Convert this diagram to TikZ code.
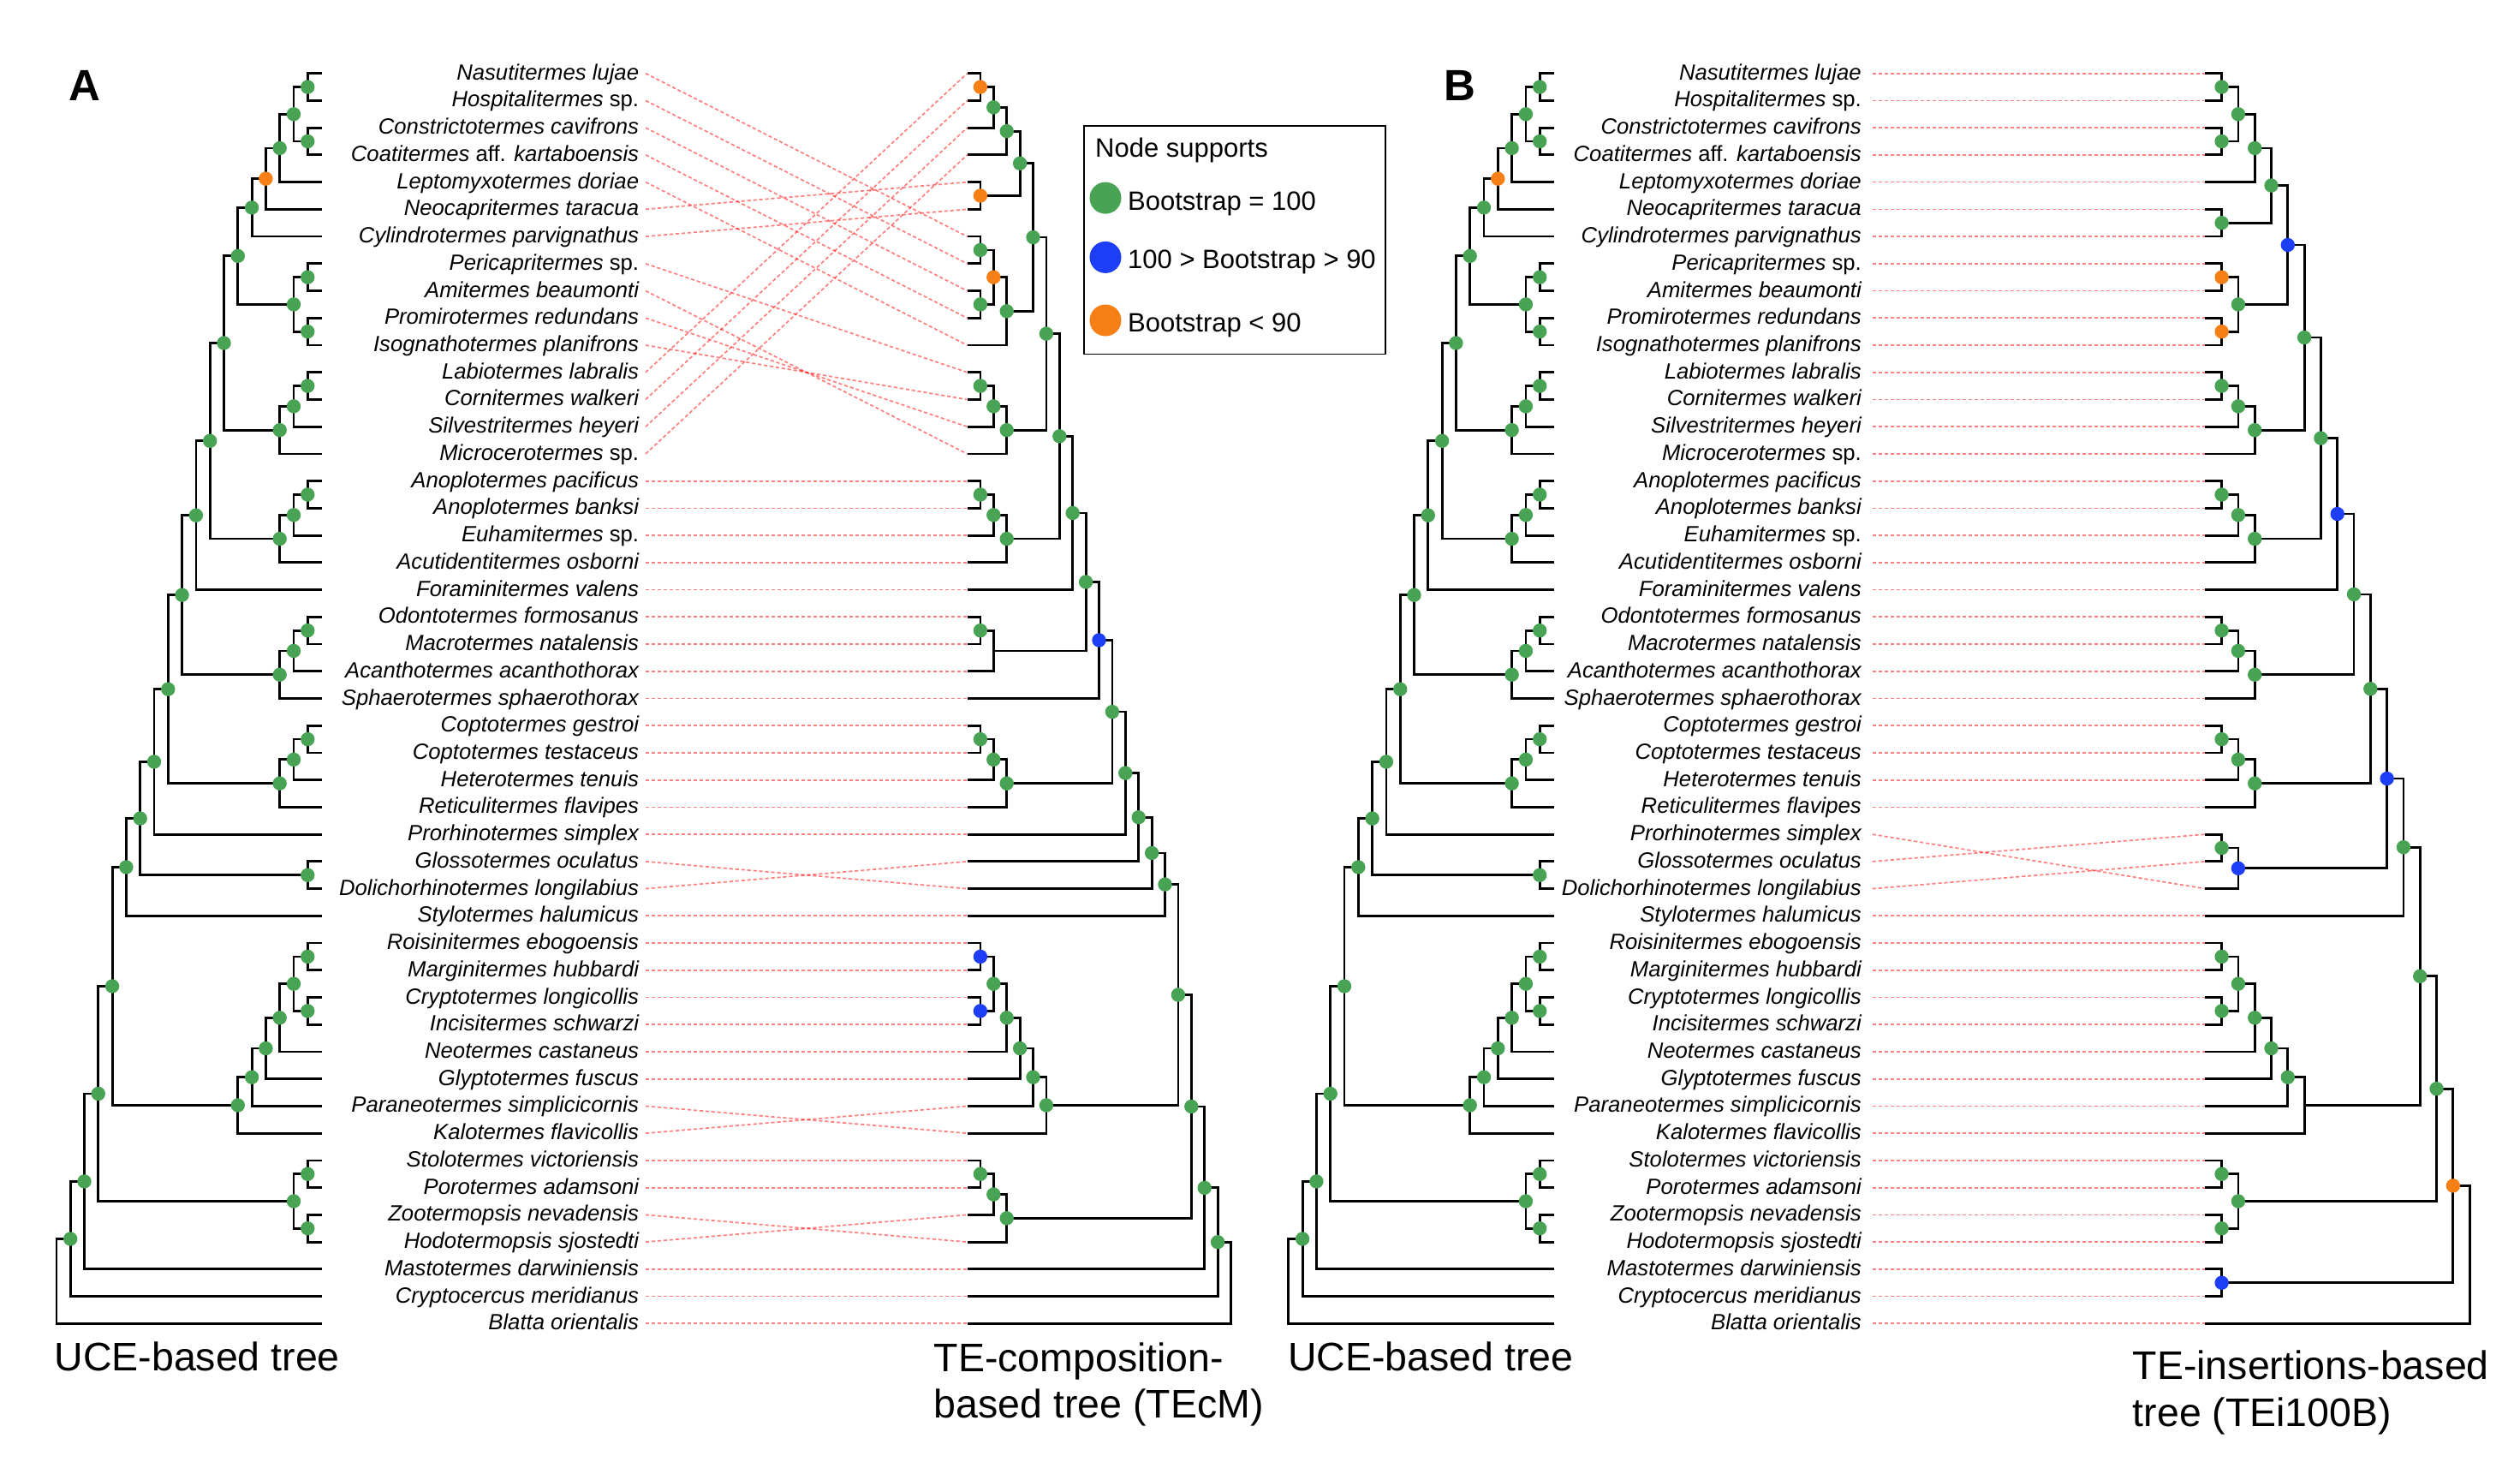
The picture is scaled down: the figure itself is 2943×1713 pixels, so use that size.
\documentclass[tikz,border=0pt]{standalone}
\usepackage{fontspec}
\setmainfont{Liberation Sans}
\usetikzlibrary{calc}
\pgfdeclarelayer{fg}
\pgfsetlayers{main,fg}
\definecolor{gr}{RGB}{73,163,84}
\definecolor{og}{RGB}{246,127,22}
\definecolor{bl}{RGB}{30,62,246}
\newcommand\labfont{\fontsize{25.7pt}{30pt}\selectfont\itshape}
\newcommand\legfont{\fontsize{31pt}{36pt}\selectfont}
\newcommand\titfont{\fontsize{46.5pt}{54pt}\selectfont}
\newcommand\bigletfont{\fontsize{51pt}{51pt}\selectfont\bfseries}
\newcommand\trX{0}
\newcommand\trD{0}
\newcommand\rowy[1]{85.7+31.73*#1}
\newcommand\tn[5]{%
  \path let \p1=(#2), \p2=(#3) in ({(\trX+(\trD)*(#4))*1pt},{(\y1+\y2)/2}) coordinate (#1);
  \draw[br] (#2) -| (#1) |- (#3);
  \ifx\relax#5\relax\else
    \begin{pgfonlayer}{fg}\fill[#5] (#1) circle[radius=8.2pt];\end{pgfonlayer}%
  \fi}
\newcommand\spname[1]{\ifcase#1\relax
Nasutitermes lujae\or
Hospitalitermes \textup{sp.}\or
Constrictotermes cavifrons\or
Coatitermes \textup{aff.} kartaboensis\or
Leptomyxotermes doriae\or
Neocapritermes taracua\or
Cylindrotermes parvignathus\or
Pericapritermes \textup{sp.}\or
Amitermes beaumonti\or
Promirotermes redundans\or
Isognathotermes planifrons\or
Labiotermes labralis\or
Cornitermes walkeri\or
Silvestritermes heyeri\or
Microcerotermes \textup{sp.}\or
Anoplotermes pacificus\or
Anoplotermes banksi\or
Euhamitermes \textup{sp.}\or
Acutidentitermes osborni\or
Foraminitermes valens\or
Odontotermes formosanus\or
Macrotermes natalensis\or
Acanthotermes acanthothorax\or
Sphaerotermes sphaerothorax\or
Coptotermes gestroi\or
Coptotermes testaceus\or
Heterotermes tenuis\or
Reticulitermes flavipes\or
Prorhinotermes simplex\or
Glossotermes oculatus\or
Dolichorhinotermes longilabius\or
Stylotermes halumicus\or
Roisinitermes ebogoensis\or
Marginitermes hubbardi\or
Cryptotermes longicollis\or
Incisitermes schwarzi\or
Neotermes castaneus\or
Glyptotermes fuscus\or
Paraneotermes simplicicornis\or
Kalotermes flavicollis\or
Stolotermes victoriensis\or
Porotermes adamsoni\or
Zootermopsis nevadensis\or
Hodotermopsis sjostedti\or
Mastotermes darwiniensis\or
Cryptocercus meridianus\or
Blatta orientalis\fi}
\newcommand\ucetree[1]{%
 \tn{#1n1}{#1-0}{#1-1}{1}{gr}%
 \tn{#1n2}{#1-2}{#1-3}{1}{gr}%
 \tn{#1n3}{#1n1}{#1n2}{2}{gr}%
 \tn{#1n4}{#1n3}{#1-4}{3}{gr}%
 \tn{#1n5}{#1n4}{#1-5}{4}{og}%
 \tn{#1n6}{#1n5}{#1-6}{5}{gr}%
 \tn{#1n7}{#1-7}{#1-8}{1}{gr}%
 \tn{#1n8}{#1-9}{#1-10}{1}{gr}%
 \tn{#1n9}{#1n7}{#1n8}{2}{gr}%
 \tn{#1n10}{#1n6}{#1n9}{6}{gr}%
 \tn{#1n11}{#1-11}{#1-12}{1}{gr}%
 \tn{#1n12}{#1n11}{#1-13}{2}{gr}%
 \tn{#1n13}{#1n12}{#1-14}{3}{gr}%
 \tn{#1n14}{#1n10}{#1n13}{7}{gr}%
 \tn{#1n15}{#1-15}{#1-16}{1}{gr}%
 \tn{#1n16}{#1n15}{#1-17}{2}{gr}%
 \tn{#1n17}{#1n16}{#1-18}{3}{gr}%
 \tn{#1n18}{#1n14}{#1n17}{8}{gr}%
 \tn{#1n19}{#1n18}{#1-19}{9}{gr}%
 \tn{#1n20}{#1-20}{#1-21}{1}{gr}%
 \tn{#1n21}{#1n20}{#1-22}{2}{gr}%
 \tn{#1n22}{#1n21}{#1-23}{3}{gr}%
 \tn{#1n23}{#1n19}{#1n22}{10}{gr}%
 \tn{#1n24}{#1-24}{#1-25}{1}{gr}%
 \tn{#1n25}{#1n24}{#1-26}{2}{gr}%
 \tn{#1n26}{#1n25}{#1-27}{3}{gr}%
 \tn{#1n27}{#1n23}{#1n26}{11}{gr}%
 \tn{#1n28}{#1n27}{#1-28}{12}{gr}%
 \tn{#1n29}{#1-29}{#1-30}{1}{gr}%
 \tn{#1n30}{#1n28}{#1n29}{13}{gr}%
 \tn{#1n31}{#1n30}{#1-31}{14}{gr}%
 \tn{#1n32}{#1-32}{#1-33}{1}{gr}%
 \tn{#1n33}{#1-34}{#1-35}{1}{gr}%
 \tn{#1n34}{#1n32}{#1n33}{2}{gr}%
 \tn{#1n35}{#1n34}{#1-36}{3}{gr}%
 \tn{#1n36}{#1n35}{#1-37}{4}{gr}%
 \tn{#1n37}{#1n36}{#1-38}{5}{gr}%
 \tn{#1n38}{#1n37}{#1-39}{6}{gr}%
 \tn{#1n39}{#1n31}{#1n38}{15}{gr}%
 \tn{#1n40}{#1-40}{#1-41}{1}{gr}%
 \tn{#1n41}{#1-42}{#1-43}{1}{gr}%
 \tn{#1n42}{#1n40}{#1n41}{2}{gr}%
 \tn{#1n43}{#1n39}{#1n42}{16}{gr}%
 \tn{#1n44}{#1n43}{#1-44}{17}{gr}%
 \tn{#1n45}{#1n44}{#1-45}{18}{gr}%
 \tn{#1n46}{#1n45}{#1-46}{19}{}%
}
\begin{document}
\begin{tikzpicture}[x=1pt,y=-1pt,
  br/.style={line width=2.8pt,black},
  lk/.style={draw=red,draw opacity=0.5,line width=1.7pt,dash pattern=on 4.2pt off 2.8pt},
  lab/.style={anchor=east,inner sep=0pt,text height=15pt,text depth=0pt,font=\labfont},
  tit/.style={anchor=base west,inner sep=0pt,font=\titfont},
  leg/.style={anchor=base west,inner sep=0pt,font=\legfont},
  ldot/.style={circle,inner sep=0pt,minimum size=37pt}]
\useasboundingbox (0,0) rectangle (2943,1713);
\foreach \i in {0,...,46}{
  \coordinate (au-\i) at (375.6,{\rowy{\i}});
  \coordinate (bu-\i) at (1814.5,{\rowy{\i}});
  \coordinate (ad-\i) at (754,{\rowy{\i}});
  \coordinate (bd-\i) at (2186.7,{\rowy{\i}});
  \coordinate (at-\i) at (1129.5,{\rowy{\i}});
  \coordinate (bt-\i) at (2575.3,{\rowy{\i}});
  \node[lab] (la-\i) at (746.3,{\rowy{\i}}) {\spname{\i}};
  \node[lab] (lb-\i) at (2174,{\rowy{\i}}) {\spname{\i}};
}
% connecting dotted lines
\foreach \j [count=\i from 0] in {6,7,8,9,10,4,5,11,14,13,12,0,1,2,3,15,16,17,18,19,20,21,22,23,24,25,26,27,28,30,29,31,32,33,34,35,36,37,39,38,40,41,43,42,44,45,46}{
  \draw[lk] (ad-\i) -- (at-\j);
}
\foreach \j [count=\i from 0] in {0,1,2,3,4,5,6,7,8,9,10,11,12,13,14,15,16,17,18,19,20,21,22,23,24,25,26,27,30,28,29,31,32,33,34,35,36,37,38,39,40,41,42,43,44,45,46}{
  \draw[lk] (bd-\i) -- (bt-\j);
}
% UCE trees
\renewcommand\trX{375.6}\renewcommand\trD{-16.3}
\ucetree{au}
\renewcommand\trX{1814.5}\renewcommand\trD{-16.3}
\ucetree{bu}
% TEcM tree
\renewcommand\trX{1129.5}\renewcommand\trD{15.4}
\tn{c1}{at-0}{at-1}{1}{og}
\tn{c2}{c1}{at-2}{2}{gr}
\tn{c3}{c2}{at-3}{3}{gr}
\tn{c4}{at-4}{at-5}{1}{og}
\tn{c5}{c3}{c4}{4}{gr}
\tn{c6}{at-6}{at-7}{1}{gr}
\tn{c7}{at-8}{at-9}{1}{gr}
\tn{c8}{c6}{c7}{2}{og}
\tn{c9}{c8}{at-10}{3}{gr}
\tn{c10}{c5}{c9}{5}{gr}
\tn{c11}{at-11}{at-12}{1}{gr}
\tn{c12}{c11}{at-13}{2}{gr}
\tn{c13}{c12}{at-14}{3}{gr}
\tn{c14}{c10}{c13}{6}{gr}
\tn{c15}{at-15}{at-16}{1}{gr}
\tn{c16}{c15}{at-17}{2}{gr}
\tn{c17}{c16}{at-18}{3}{gr}
\tn{c18}{c14}{c17}{7}{gr}
\tn{c19}{c18}{at-19}{8}{gr}
\tn{c20}{at-20}{at-21}{1}{gr}
\tn{c21}{c20}{at-22}{2}{}
\tn{c22}{c19}{c21}{9}{gr}
\tn{c23}{c22}{at-23}{10}{bl}
\tn{c24}{at-24}{at-25}{1}{gr}
\tn{c25}{c24}{at-26}{2}{gr}
\tn{c26}{c25}{at-27}{3}{gr}
\tn{c27}{c23}{c26}{11}{gr}
\tn{c28}{c27}{at-28}{12}{gr}
\tn{c29}{c28}{at-29}{13}{gr}
\tn{c30}{c29}{at-30}{14}{gr}
\tn{c31}{c30}{at-31}{15}{gr}
\tn{c32}{at-32}{at-33}{1}{bl}
\tn{c33}{at-34}{at-35}{1}{bl}
\tn{c34}{c32}{c33}{2}{gr}
\tn{c35}{c34}{at-36}{3}{gr}
\tn{c36}{c35}{at-37}{4}{gr}
\tn{c37}{c36}{at-38}{5}{gr}
\tn{c38}{c37}{at-39}{6}{gr}
\tn{c39}{c31}{c38}{16}{gr}
\tn{c40}{at-40}{at-41}{1}{gr}
\tn{c41}{c40}{at-42}{2}{gr}
\tn{c42}{c41}{at-43}{3}{gr}
\tn{c43}{c39}{c42}{17}{gr}
\tn{c44}{c43}{at-44}{18}{gr}
\tn{c45}{c44}{at-45}{19}{gr}
\tn{c46}{c45}{at-46}{20}{}
% TEi100B tree
\renewcommand\trX{2575.3}\renewcommand\trD{19.3}
\tn{e1}{bt-0}{bt-1}{1}{gr}
\tn{e2}{bt-2}{bt-3}{1}{gr}
\tn{e3}{e1}{e2}{2}{gr}
\tn{e4}{e3}{bt-4}{3}{gr}
\tn{e5}{bt-5}{bt-6}{1}{gr}
\tn{e6}{e4}{e5}{4}{gr}
\tn{e7}{bt-7}{bt-8}{1}{og}
\tn{e8}{bt-9}{bt-10}{1}{og}
\tn{e9}{e7}{e8}{2}{gr}
\tn{e10}{e6}{e9}{5}{bl}
\tn{e11}{bt-11}{bt-12}{1}{gr}
\tn{e12}{e11}{bt-13}{2}{gr}
\tn{e13}{e12}{bt-14}{3}{gr}
\tn{e14}{e10}{e13}{6}{gr}
\tn{e15}{bt-15}{bt-16}{1}{gr}
\tn{e16}{e15}{bt-17}{2}{gr}
\tn{e17}{e16}{bt-18}{3}{gr}
\tn{e18}{e14}{e17}{7}{gr}
\tn{e19}{e18}{bt-19}{8}{bl}
\tn{e20}{bt-20}{bt-21}{1}{gr}
\tn{e21}{e20}{bt-22}{2}{gr}
\tn{e22}{e21}{bt-23}{3}{gr}
\tn{e23}{e19}{e22}{9}{gr}
\tn{e24}{bt-24}{bt-25}{1}{gr}
\tn{e25}{e24}{bt-26}{2}{gr}
\tn{e26}{e25}{bt-27}{3}{gr}
\tn{e27}{e23}{e26}{10}{gr}
\tn{e28}{bt-28}{bt-29}{1}{gr}
\tn{e29}{e28}{bt-30}{2}{bl}
\tn{e30}{e27}{e29}{11}{bl}
\tn{e31}{e30}{bt-31}{12}{gr}
\tn{e32}{bt-32}{bt-33}{1}{gr}
\tn{e33}{bt-34}{bt-35}{1}{gr}
\tn{e34}{e32}{e33}{2}{gr}
\tn{e35}{e34}{bt-36}{3}{gr}
\tn{e36}{e35}{bt-37}{4}{gr}
\tn{e37}{e36}{bt-38}{5}{gr}
\tn{e38}{e37}{bt-39}{6}{}
\tn{e39}{e31}{e38}{13}{gr}
\tn{e40}{bt-40}{bt-41}{1}{gr}
\tn{e41}{bt-42}{bt-43}{1}{gr}
\tn{e42}{e40}{e41}{2}{gr}
\tn{e43}{e39}{e42}{14}{gr}
\tn{e44}{bt-44}{bt-45}{1}{bl}
\tn{e45}{e43}{e44}{15}{og}
\tn{e46}{e45}{bt-46}{16}{}
% panel letters
\node[anchor=base west,inner sep=0pt,font=\bigletfont] (letA) at (80,117) {A};
\node[anchor=base west,inner sep=0pt,font=\bigletfont] (letB) at (1686,117) {B};
% titles
\node[tit] (tA1) at (63.3,1600) {UCE-based tree};
\node[tit] (tA2) at (1090.5,1601) {TE-composition-};
\node[tit] (tA3) at (1090.5,1655) {based tree (TEcM)};
\node[tit] (tB1) at (1503.9,1600) {UCE-based tree};
\node[tit] (tB2) at (2490.5,1610) {TE-insertions-based};
\node[tit] (tB3) at (2490.5,1665) {tree (TEi100B)};
% legend
\node[draw,line width=1.8pt,anchor=north west,inner sep=0pt,minimum width=352.7pt,minimum height=266.1pt] (legend) at (1264.7,146.4) {};
\node[leg] (legt) at (1279,183) {Node supports};
\node[ldot,fill=gr] (lg1) at (1291,231.1) {};
\node[leg] (lgt1) at (1317,245.7) {Bootstrap = 100};
\node[ldot,fill=bl] (lg2) at (1291,300.4) {};
\node[leg] (lgt2) at (1317,313.6) {100 > Bootstrap > 90};
\node[ldot,fill=og] (lg3) at (1291,374) {};
\node[leg] (lgt3) at (1317,387.5) {Bootstrap < 90};
\end{tikzpicture}
\end{document}
